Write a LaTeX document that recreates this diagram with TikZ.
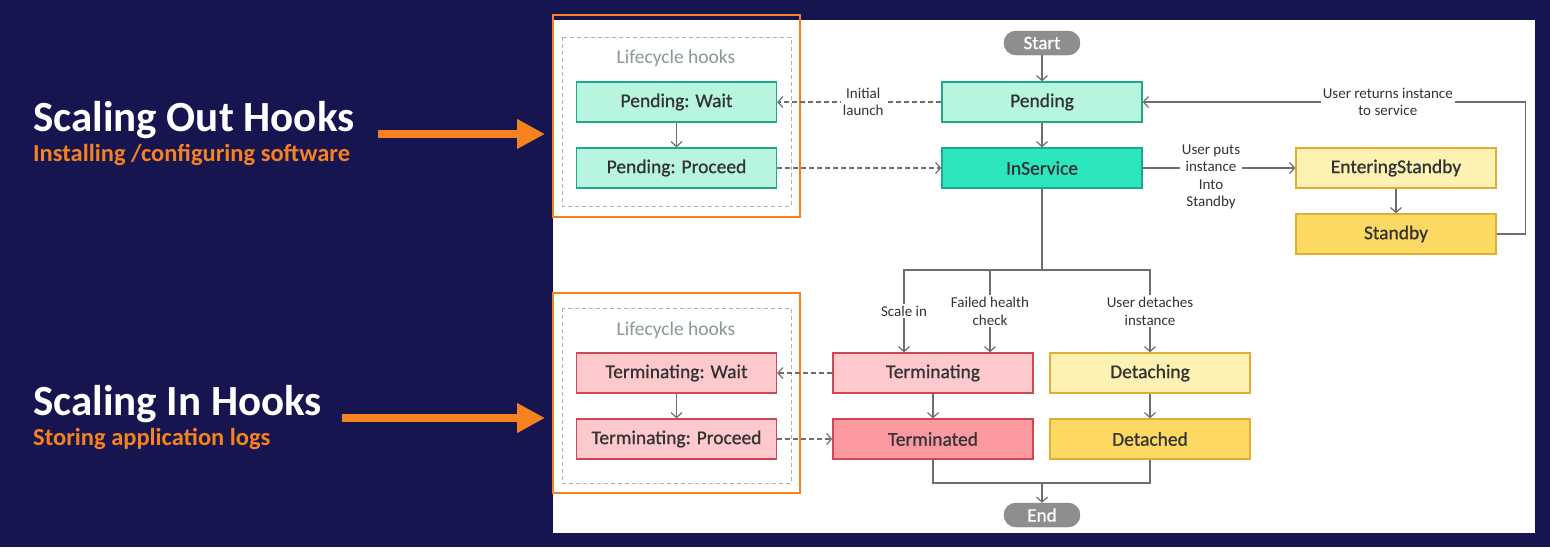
\documentclass[tikz,border=0pt]{standalone}
\usepackage{fontspec}
\setmainfont{Carlito}
\newfontfamily\statefont[FakeBold=0.8]{Carlito}
\usetikzlibrary{arrows.meta}
\definecolor{navy}{HTML}{17154F}
\definecolor{hookorange}{HTML}{F5821F}
\definecolor{mintlight}{HTML}{B7F5E1}
\definecolor{mintdark}{HTML}{2CE6BE}
\definecolor{mintline}{HTML}{1DAA8A}
\definecolor{yellowlight}{HTML}{FDF1B4}
\definecolor{yellowdark}{HTML}{FBD962}
\definecolor{yellowline}{HTML}{E0AE30}
\definecolor{pinklight}{HTML}{FDC9CC}
\definecolor{pinkdark}{HTML}{FA9AA0}
\definecolor{pinkline}{HTML}{CF4654}
\definecolor{wire}{HTML}{6E6E6E}
\definecolor{pillgray}{HTML}{8E8E8E}
\definecolor{hookgray}{HTML}{8A9898}
\begin{document}
\begin{tikzpicture}[x=1pt,y=-1pt,>={Straight Barb[length=5pt,width=11pt]},
	state/.style={draw,line width=1.3pt,minimum width=200pt,minimum height=40pt,inner sep=0pt,text=black!80,font=\statefont\fontsize{19.5}{21}\selectfont},
	mint/.style={state,fill=mintlight,draw=mintline},
	mintfull/.style={state,fill=mintdark,draw=mintline},
	yel/.style={state,fill=yellowlight,draw=yellowline},
	yelfull/.style={state,fill=yellowdark,draw=yellowline},
	pink/.style={state,fill=pinklight,draw=pinkline},
	pinkfull/.style={state,fill=pinkdark,draw=pinkline},
	pill/.style={draw=pillgray!85!black,fill=pillgray,rounded corners=12pt,minimum width=76pt,minimum height=24pt,inner sep=0pt,text=white,font=\statefont\fontsize{19}{20}\selectfont},
	lab/.style={fill=white,inner sep=2pt,align=center,text=black!80,font=\fontsize{15}{17.5}\selectfont},
	link/.style={draw=wire,line width=1.2pt},
	hook/.style={link,dash pattern=on 5pt off 3pt},
	frame/.style={draw=hookorange,line width=2.5pt,minimum width=247pt,minimum height=202pt,inner sep=0pt},
	title/.style={anchor=base west,inner sep=0pt,text=white,font=\bfseries\fontsize{43}{45}\selectfont},
	subtitle/.style={anchor=base west,inner sep=0pt,text=hookorange,font=\bfseries\fontsize{24.5}{26}\selectfont},
	bigarrow/.style={hookorange,line width=8pt,-{Triangle[length=28pt,width=28pt]}}]
	\useasboundingbox (0,0) rectangle (1550,547);
	\fill[navy] (0,0) rectangle (1550,547);
	\fill[white] (553,20) rectangle (1535,533);
	\node[title] (outT) at (33,131) {Scaling Out Hooks};
	\node[subtitle] (outS) at (33,161) {Installing /configuring software};
	\node[title] (inT) at (33,415) {Scaling In Hooks};
	\node[subtitle] (inS) at (33,445) {Storing application logs};
	\node[frame] (outbox) at (676.5,116) {};
	\node[frame,minimum height=200pt] (inbox) at (676.5,393) {};
	\coordinate (outfrom) at (378,134);
	\coordinate (outto) at (545,134);
	\coordinate (infrom) at (342,418);
	\coordinate (into) at (545,418);
	\draw[bigarrow] (outfrom) -- (outto);
	\draw[bigarrow] (infrom) -- (into);
	\draw[gray!60,line width=1pt,dash pattern=on 4pt off 3pt] (562,37) rectangle (791,206) (562,308) rectangle (791,483);
	\node[text=hookgray,font=\fontsize{19.5}{21}\selectfont] (hooksout) at (676,58) {Lifecycle hooks};
	\node[text=hookgray,font=\fontsize{19.5}{21}\selectfont] (hooksin) at (676,330) {Lifecycle hooks};
	\node[mint] (pwait) at (676.5,102) {Pending: Wait};
	\node[mint] (pproc) at (676.5,168) {Pending: Proceed};
	\node[pill] (start) at (1042,43) {Start};
	\node[mint] (pend) at (1042,102) {Pending};
	\node[mintfull] (insvc) at (1042,168) {InService};
	\node[yel] (estby) at (1396,168) {EnteringStandby};
	\node[yelfull] (stby) at (1396,234) {Standby};
	\node[pink] (twait) at (676.5,373) {Terminating: Wait};
	\node[pink] (tproc) at (676.5,439) {Terminating: Proceed};
	\node[pink] (term) at (933,373) {Terminating};
	\node[pinkfull] (termd) at (933,439) {Terminated};
	\node[yel] (detg) at (1150,373) {Detaching};
	\node[yelfull] (detd) at (1150,439) {Detached};
	\node[pill] (finish) at (1042,515) {End};
	\draw[link,->] (start) -- (pend);
	\draw[link,->] (pend) -- (insvc);
	\draw[link,->] (pwait) -- (pproc);
	\draw[link,->] (estby) -- (stby);
	\draw[link,->] (twait) -- (tproc);
	\draw[link,->] (term) -- (termd);
	\draw[link,->] (detg) -- (detd);
	\draw[hook,->] (pend) -- node[lab,xshift=4pt]{Initial\\launch} (pwait);
	\draw[hook,->] (pproc) -- (insvc);
	\draw[hook,->] (term) -- (twait);
	\draw[hook,->] (tproc) -- (termd);
	\draw[link,->] (insvc) -- node[lab,xshift=-8pt,yshift=-9pt]{User puts\\instance\\Into\\Standby} (estby);
	\draw[link,->] (stby.east) -- ++(29,0) |- node[lab,pos=0.68]{User returns instance\\to service} (pend.east);
	\coordinate (split) at (1042,270);
	\draw[link] (insvc) -- (split);
	\draw[link,->] (split) -| node[lab,pos=0.75]{Scale in} ([xshift=-29pt]term.north);
	\draw[link,->] (split) -| node[lab,pos=0.75]{Failed health\\check} ([xshift=57pt]term.north);
	\draw[link,->] (split) -| node[lab,pos=0.75]{User detaches\\instance} (detg.north);
	\coordinate (join) at (1042,483);
	\draw[link] (termd) |- (join) -| (detd);
	\draw[link,->] (join) -- (finish);
\end{tikzpicture}
\end{document}
